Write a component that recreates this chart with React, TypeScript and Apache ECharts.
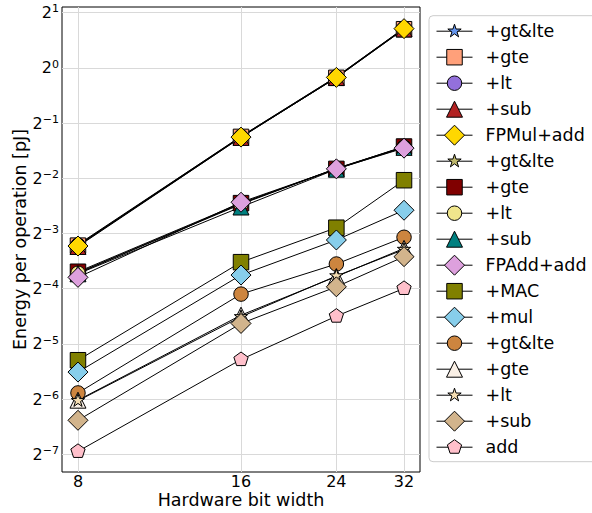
import React, { useEffect, useRef } from "react";
import * as echarts from "echarts";

// ---- data (energy per operation in pJ) ----
const bitWidths = [8, 16, 24, 32];
const xTickLabels = ["8", "16", "24", "32"];
const yTickExponents = [-7, -6, -5, -4, -3, -2, -1, 0, 1];

const seriesNames = [
  "+gt&lte", "+gte", "+lt", "+sub", "FPMul+add",
  "+gt&lte", "+gte", "+lt", "+sub", "FPAdd+add",
  "+MAC", "+mul", "+gt&lte", "+gte", "+lt", "+sub", "add",
];

// FPMul group
const fpMulGtLte = [0.1088, 0.4234, 0.895, 1.647];
const fpMulGte = [0.1073, 0.4204, 0.8827, 1.625];
const fpMulLt = [0.1081, 0.4219, 0.8919, 1.641];
const fpMulSub = [0.1062, 0.4176, 0.8858, 1.63];
const fpMulAdd = [0.1068, 0.4193, 0.8876, 1.637];
// FPAdd group
const fpAddGtLte = [0.07641, 0.1817, 0.2832, 0.3711];
const fpAddGte = [0.07732, 0.183, 0.2813, 0.3725];
const fpAddLt = [0.07589, 0.1805, 0.2823, 0.3699];
const fpAddSub = [0.07536, 0.1743, 0.2803, 0.3686];
const fpAddAdd = [0.07204, 0.1851, 0.2815, 0.365];
// integer group
const intMac = [0.02545, 0.08718, 0.1344, 0.244];
const intMul = [0.02194, 0.07417, 0.1152, 0.1674];
const intGtLte = [0.01688, 0.05839, 0.0852, 0.1192];
const intGte = [0.01541, 0.04481, 0.07279, 0.1037];
const intLt = [0.0153, 0.04389, 0.0733, 0.1022];
const intSub = [0.01197, 0.04039, 0.06399, 0.09343];
const intAdd = [0.008105, 0.02568, 0.04428, 0.06272];

const seriesValues = [
  fpMulGtLte, fpMulGte, fpMulLt, fpMulSub, fpMulAdd,
  fpAddGtLte, fpAddGte, fpAddLt, fpAddSub, fpAddAdd,
  intMac, intMul, intGtLte, intGte, intLt, intSub, intAdd,
];

// ---- styles ----
const colors = [
  "#6495ED", "#FFA07A", "#9370DB", "#B22222", "#FFD700",
  "#BDB76B", "#800000", "#F0E68C", "#008080", "#DDA0DD",
  "#808000", "#87CEEB", "#CD853F", "#FAF0E6", "#F5DEB3", "#D2B48C", "#FFC0CB",
];
const markers = [
  "star", "square", "circle", "triangle", "diamond",
  "star", "square", "circle", "triangle", "diamond",
  "square", "diamond", "circle", "triangle", "star", "diamond", "pentagon",
];

const FRAME = "M0 0 M20 20 ";
const symbolPaths: Record<string, string> = {
  diamond: "path://" + FRAME + "M10 0 L20 10 L10 20 L0 10 Z",
  square: "path://" + FRAME + "M2.25 2.25 L17.75 2.25 L17.75 17.75 L2.25 17.75 Z",
  circle: "path://" + FRAME + "M2.75 10 A7.25 7.25 0 1 1 17.25 10 A7.25 7.25 0 1 1 2.75 10 Z",
  triangle: "path://" + FRAME + "M10 2 L18 18 L2 18 Z",
  star:
    "path://" + FRAME +
    "M10 3 L11.572 7.837 L16.657 7.837 L12.543 10.826 L14.115 15.663 L10 12.674 L5.885 15.663 L7.457 10.826 L3.343 7.837 L8.428 7.837 Z",
  pentagon: "path://" + FRAME + "M10 2.5 L17.133 7.682 L14.408 16.068 L5.592 16.068 L2.867 7.682 Z",
};

const xMinLog = 2.902;
const xMaxLog = 5.098;
const yMinLog = -7.321;
const yMaxLog = 1.103;

const FONT = "DejaVu Sans";

function buildOption() {
  const xTickValues = bitWidths.map((b) => Math.log2(b));
  const ids = seriesNames.map((n, i) => `${n}#${i}`);
  return {
    animation: false,
    backgroundColor: "#fff",
    textStyle: { fontFamily: FONT },
    grid: {
      left: 62,
      right: 172,
      top: 7,
      bottom: 41,
      containLabel: false,
      outerBoundsMode: "none",
      show: true,
      borderColor: "#000",
      borderWidth: 1,
      backgroundColor: "transparent",
    },
    xAxis: {
      type: "value",
      min: xMinLog,
      max: xMaxLog,
      axisLine: { show: false },
      axisTick: { show: false, customValues: xTickValues },
      axisLabel: {
        customValues: xTickValues,
        formatter: (v: number) => {
          const idx = xTickValues.findIndex((t) => Math.abs(t - v) < 1e-6);
          return idx >= 0 ? xTickLabels[idx] : "";
        },
        fontSize: 16,
        color: "#000",
        margin: 1,
        fontFamily: FONT,
      },
      splitLine: { show: true, lineStyle: { color: "#d9d9d9", width: 1 } },
      name: "Hardware bit width",
      nameLocation: "middle",
      nameGap: 19,
      nameMoveOverlap: false,
      nameTextStyle: { fontSize: 17.5, color: "#000", fontFamily: FONT },
    },
    yAxis: {
      type: "value",
      min: yMinLog,
      max: yMaxLog,
      axisLine: { show: false },
      axisTick: { show: false, customValues: yTickExponents },
      axisLabel: {
        customValues: yTickExponents,
        formatter: (v: number) => `{b|2}{s|${v < 0 ? "\u2212" + Math.abs(v) : v}}`,
        margin: 3,
        padding: [0, 0, 2.5, 0],
        rich: {
          b: { fontSize: 16, lineHeight: 16, padding: [2.5, 0, 0, 0], color: "#000", fontFamily: FONT },
          s: { fontSize: 11, lineHeight: 10, verticalAlign: "top", color: "#000", fontFamily: FONT },
        },
      },
      splitLine: { show: true, lineStyle: { color: "#d9d9d9", width: 1 } },
      name: "Energy per operation [pJ]",
      nameLocation: "middle",
      nameGap: 33,
      nameMoveOverlap: false,
      nameTextStyle: { fontSize: 17.5, color: "#000", fontFamily: FONT },
    },
    legend: {
      orient: "vertical",
      left: 429,
      top: 15.7,
      itemWidth: 36,
      itemHeight: 25,
      itemGap: 1,
      padding: [3, 12, 2, 7],
      backgroundColor: "#fff",
      borderColor: "#cccccc",
      borderWidth: 1,
      borderRadius: 4,
      selectedMode: false,
      data: ids,
      formatter: (name: string) => name.split("#")[0],
      textStyle: { fontSize: 17.5, lineHeight: 25, color: "#000", fontFamily: FONT, padding: [0, 0, 0, 8] },
      itemStyle: { borderColor: "#000", borderWidth: 1 },
      lineStyle: { color: "#000", width: 1 },
    },
    series: seriesNames.map((n, i) => ({
      type: "line",
      name: ids[i],
      data: bitWidths.map((b, j) => [Math.log2(b), Math.log2(seriesValues[i][j])]),
      symbol: symbolPaths[markers[i]],
      symbolSize: 20,
      showAllSymbol: true,
      clip: false,
      itemStyle: { color: colors[i], borderColor: "#000", borderWidth: 1 },
      lineStyle: { color: "#000", width: 1 },
      emphasis: { disabled: true },
    })),
  };
}

export default function App() {
  const ref = useRef<HTMLDivElement>(null);
  useEffect(() => {
    if (!ref.current) return;
    const chart = echarts.init(ref.current, null, { renderer: "svg" });
    chart.setOption(buildOption() as any);
    return () => chart.dispose();
  }, []);
  return (
    <div
      ref={ref}
      style={{ position: "fixed", left: 0, top: 0, width: 592, height: 513, background: "#fff" }}
    />
  );
}
